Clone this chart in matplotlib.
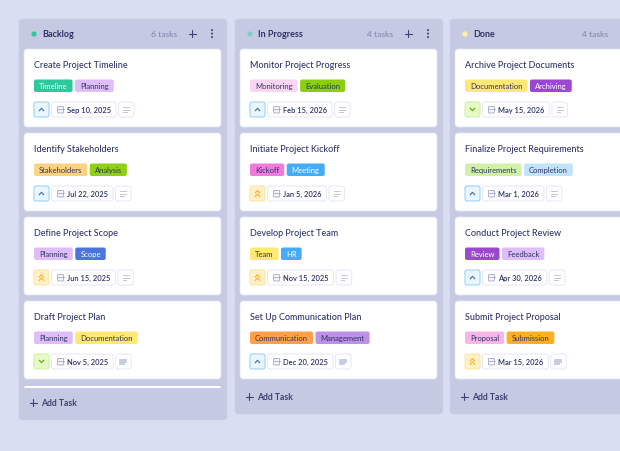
import matplotlib
matplotlib.use("Agg")
import matplotlib.pyplot as plt
from matplotlib.patches import FancyBboxPatch, Circle

plt.rcParams['font.family'] = ['Lato', 'DejaVu Sans']

# ---- data ----
columns = ["Backlog", "In Progress", "Done"]
task_counts = ["6 tasks", "4 tasks", "4 tasks"]
dot_colors = ["#2DC89C", "#7FCFC4", "#FFF0A0"]
titles = [
    ["Create Project Timeline", "Identify Stakeholders", "Define Project Scope", "Draft Project Plan"],
    ["Monitor Project Progress", "Initiate Project Kickoff", "Develop Project Team", "Set Up Communication Plan"],
    ["Archive Project Documents", "Finalize Project Requirements", "Conduct Project Review", "Submit Project Proposal"],
]
tags = [
    [["Timeline", "Planning"], ["Stakeholders", "Analysis"], ["Planning", "Scope"], ["Planning", "Documentation"]],
    [["Monitoring", "Evaluation"], ["Kickoff", "Meeting"], ["Team", "HR"], ["Communication", "Management"]],
    [["Documentation", "Archiving"], ["Requirements", "Completion"], ["Review", "Feedback"], ["Proposal", "Submission"]],
]
dates = [
    ["Sep 10, 2025", "Jul 22, 2025", "Jun 15, 2025", "Nov 5, 2025"],
    ["Feb 15, 2026", "Jan 5, 2026", "Nov 15, 2025", "Dec 20, 2025"],
    ["May 15, 2026", "Mar 1, 2026", "Apr 30, 2026", "Mar 15, 2026"],
]
priorities = [
    ["medium", "medium", "high", "low"],
    ["medium", "high", "high", "medium"],
    ["low", "medium", "medium", "high"],
]
tag_colors = {
    "Timeline": "#2DC89C", "Planning": "#DFBDF8", "Stakeholders": "#FFD27F", "Analysis": "#8FD014",
    "Scope": "#4A76DB", "Documentation": "#FFE873", "Monitoring": "#FBD5F3", "Evaluation": "#8AD010",
    "Kickoff": "#F07BDD", "Meeting": "#45ABF5", "Team": "#FFE873", "HR": "#45ABF5",
    "Communication": "#FF9F47", "Management": "#BE90E8", "Archiving": "#9B47D0", "Requirements": "#D1F0A8",
    "Completion": "#C3E3FB", "Review": "#9B47D0", "Feedback": "#DFBDF8", "Proposal": "#F8B5E8",
    "Submission": "#FFB020",
}
white_tags = ["Timeline", "Scope", "Meeting", "HR", "Archiving", "Review"]
priority_styles = {
    "medium": ("#EAF5FF", "#8CCFFA", "#2F6FB0"),
    "high": ("#FFF0C8", "#FFE29C", "#FFAE1F"),
    "low": ("#E6FBC8", "#CDF0A0", "#62A800"),
}

# ---- style ----
BG, COL, INK, GREY, EDGE, ICON = "#DADEF2", "#C5C9E2", "#2E3366", "#7F83A8", "#E6E8F6", "#A4A8C6"
col_left = [19, 235, 450]
col_bottom = [420, 414, 414]
COL_W, CARD_W, CARD_H, CARD_STEP = 208, 197, 78, 84
FIRST_CARD = 49

fig = plt.figure(figsize=(6.2, 4.51), dpi=100, facecolor=BG)
ax = fig.add_axes([0, 0, 1, 1])
ax.set_xlim(0, 620)
ax.set_ylim(451, 0)
ax.axis("off")
renderer = fig.canvas.get_renderer()


def box(x, y, w, h, r, fc, ec="none", lw=0.0, z=1):
    p = FancyBboxPatch((x, y), w, h, boxstyle=f"round,pad=0,rounding_size={r}",
                       fc=fc, ec=ec, lw=lw, zorder=z)
    ax.add_patch(p)


def label(x, y, s, size, color=INK, weight="normal", ha="left"):
    return ax.text(x, y, s, fontsize=size, color=color, fontweight=weight,
                   ha=ha, va="center_baseline", zorder=5)


def width(t):
    return t.get_window_extent(renderer).width


def plus(x, y, color, s=3.5):
    ax.plot([x - s, x + s], [y, y], color=color, lw=0.8, zorder=5, solid_capstyle="round")
    ax.plot([x, x], [y - s, y + s], color=color, lw=0.8, zorder=5, solid_capstyle="round")


def chevron(x, y, color, up=True):
    d = -1.2 if up else 1.2
    ax.plot([x - 2.2, x, x + 2.2], [y - d, y + d, y - d], color=color, lw=0.8, zorder=5)


def kebab(x, y, color):
    for dy in (-3.5, 0, 3.5):
        ax.add_patch(Circle((x, y + dy), 1.0, fc=color, ec="none", zorder=5))


def calendar(x, y):
    box(x - 3, y - 3, 6, 6.5, 0.8, "#F4F5FB", ICON, 0.6, z=4)
    ax.plot([x - 3, x + 3], [y - 1, y - 1], color=ICON, lw=0.6, zorder=5)


def notes(x, y, filled):
    lw = 1.3 if filled else 0.7
    for dy, reach in ((-2.5, 6), (0, 6), (2.5, 3.5)):
        ax.plot([x - 3, x - 3 + reach], [y + dy * (0.8 if filled else 1)] * 2,
                color="#C3C7DF", lw=lw, zorder=5)


def card(left, top, ci, ri):
    box(left, top, CARD_W, CARD_H, 3.5, "white", "#E4E6F5", 0.5, z=2)
    x = left + 10
    label(x, top + 15.5, titles[ci][ri], 6.45, INK, "medium")

    # tags: each pill is sized from its measured label
    for name in tags[ci][ri]:
        fg = "white" if name in white_tags else INK
        t = label(x + 5, top + 36.8, name, 5.5, fg)
        w = width(t) + 10
        box(x, top + 30.5, w, 12.5, 2, tag_colors[name], z=3)
        x += w + 2.5

    # priority, date, notes row
    y = top + 60.5
    fc, ec, ink = priority_styles[priorities[ci][ri]]
    x = left + 10
    box(x, y - 7.5, 15, 15, 2, fc, ec, 0.7, z=3)
    level = priorities[ci][ri]
    if level == "high":
        chevron(x + 7.5, y - 1.7, ink, True)
        chevron(x + 7.5, y + 1.7, ink, True)
    else:
        chevron(x + 7.5, y, ink, level == "medium")

    x += 17.5
    t = label(x + 15.5, y, dates[ci][ri], 5.4, INK, "semibold")
    w = width(t) + 20.5
    box(x, y - 7.5, w, 15, 2.5, "white", EDGE, 0.7, z=3)
    calendar(x + 9, y)

    x += w + 2.5
    box(x, y - 7.5, 15.5, 15, 2.5, "white", EDGE, 0.7, z=3)
    notes(x + 7.7, y, ri == 3)


for ci, name in enumerate(columns):
    left, bottom = col_left[ci], col_bottom[ci]
    box(left, 19, COL_W, bottom - 19, 4, COL, "#CDD1E8", 0.5, z=1)
    ax.add_patch(Circle((left + 15, 34), 2.6, fc=dot_colors[ci], ec="none", zorder=5))
    label(left + 23, 33.8, name, 6.5, INK, "bold")
    label(left + 158, 33.8, task_counts[ci], 6.1, GREY, ha="right")
    plus(left + 173, 33.6, "#3D4270")
    kebab(left + 193, 33.6, "#3D4270")

    for ri in range(len(titles[ci])):
        card(left + 5, FIRST_CARD + ri * CARD_STEP, ci, ri)

    # Backlog has more tasks than fit: the next card peeks out above the footer
    if len(titles[ci]) < int(task_counts[ci].split()[0]):
        box(left + 5, 386, CARD_W, 6, 2, "white", z=2)
        ax.add_patch(plt.Rectangle((left + 1, 388), COL_W - 2, 8, fc=COL, ec="none", zorder=3))

    y = bottom - 17.5
    plus(left + 14.3, y, "#3D4270", 3.2)
    label(left + 22, y, "Add Task", 6.2, "#3D4270", "bold")

fig.savefig("out.png", dpi=100, facecolor=BG)
